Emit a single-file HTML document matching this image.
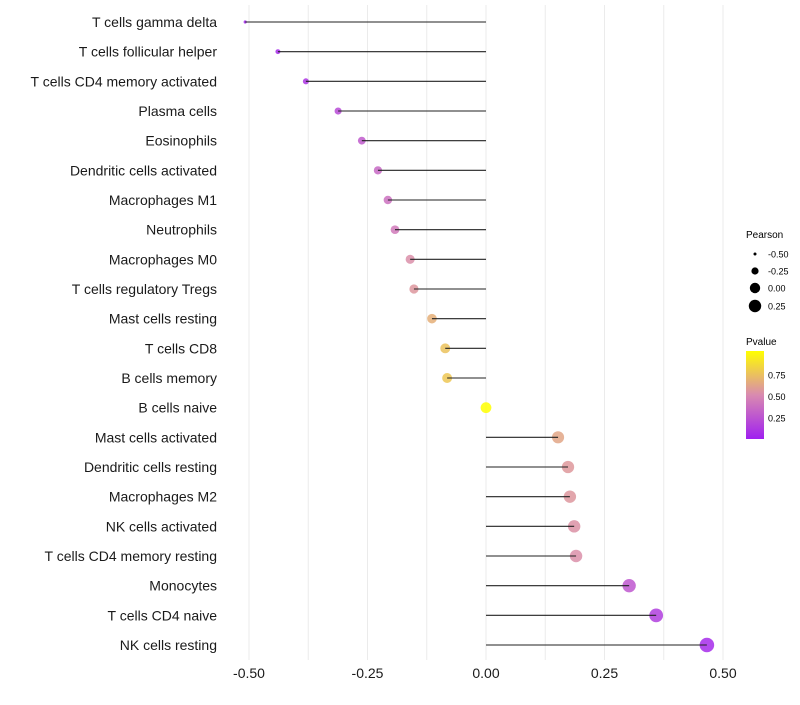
<!DOCTYPE html>
<html><head><meta charset="utf-8"><style>
body{margin:0;background:#fff;font-family:"Liberation Sans",sans-serif}
</style></head><body>
<svg id="chart" width="800" height="700" xmlns="http://www.w3.org/2000/svg" font-family="Liberation Sans, sans-serif">
<defs><linearGradient id="pg" x1="0" y1="1" x2="0" y2="0">
<stop offset="0" stop-color="#a020f0"/><stop offset="0.5" stop-color="#d98ab0"/><stop offset="1" stop-color="#ffff00"/></linearGradient></defs>
<g id="grid"></g>
<g id="points"></g>
<g id="marks"></g>
<g id="ylabels"></g>
<g id="xlabels"></g>
<g font-size="10">
<text x="746" y="238">Pearson</text>
<circle cx="755" cy="254" r="1.5" fill="#000"/><text x="768" y="257.5" font-size="9">-0.50</text>
<circle cx="755" cy="271" r="3.6" fill="#000"/><text x="768" y="274.5" font-size="9">-0.25</text>
<circle cx="755" cy="288" r="5.2" fill="#000"/><text x="768" y="291.5" font-size="9">0.00</text>
<circle cx="755" cy="306" r="6.2" fill="#000"/><text x="768" y="309.5" font-size="9">0.25</text>
</g>
<g font-size="9">
<text x="746" y="345" font-size="10">Pvalue</text>
<rect x="746" y="351" width="18" height="88" fill="url(#pg)"/>
<text x="768" y="378.5">0.75</text>
<text x="768" y="400">0.50</text>
<text x="768" y="421.5">0.25</text>
</g>
</svg>
<script>
const categories=["T cells gamma delta","T cells follicular helper","T cells CD4 memory activated","Plasma cells","Eosinophils","Dendritic cells activated","Macrophages M1","Neutrophils","Macrophages M0","T cells regulatory  Tregs ","Mast cells resting","T cells CD8","B cells memory","B cells naive","Mast cells activated","Dendritic cells resting","Macrophages M2","NK cells activated","T cells CD4 memory resting","Monocytes","T cells CD4 naive","NK cells resting"];
const pearson=[-0.508,-0.439,-0.380,-0.312,-0.262,-0.228,-0.207,-0.192,-0.160,-0.152,-0.114,-0.086,-0.082,0.0,0.152,0.173,0.177,0.186,0.190,0.302,0.359,0.466];
const pvalue=[0.02,0.05,0.1,0.2,0.28,0.34,0.38,0.42,0.52,0.55,0.66,0.74,0.76,1.0,0.62,0.56,0.55,0.53,0.52,0.26,0.14,0.05];
const xTicks=[-0.5,-0.25,0,0.25,0.5];
const xTickLabels=["-0.50","-0.25","0.00","0.25","0.50"];
const NS="http://www.w3.org/2000/svg";
const x=v=>486+v*474;
const y=i=>22+i*29.667;
function mk(t,a,p){const e=document.createElementNS(NS,t);for(const k in a)e.setAttribute(k,a[k]);p.appendChild(e);return e;}
function lerp(a,b,t){return a.map((v,i)=>Math.round(v+(b[i]-v)*t));}
function col(p){const s=[[160,32,240],[217,138,176],[255,255,0]];const c=p<0.5?lerp(s[0],s[1],p/0.5):lerp(s[1],s[2],(p-0.5)/0.5);return `rgb(${c})`;}
const rad=v=>Math.sqrt(2.5+(v+0.508)*52);
const grid=document.getElementById('grid');
for(let k=-0.5;k<=0.5001;k+=0.125){
 const l=mk('line',{x1:x(k),x2:x(k),y1:5,y2:660,stroke:'#ebebeb','stroke-width':1},grid);
 
 
}
const marks=document.getElementById('marks'),pts=document.getElementById('points'),yl=document.getElementById('ylabels'),xl=document.getElementById('xlabels');
categories.forEach((c,i)=>{
 const d=mk('circle',{cx:x(pearson[i]),cy:y(i),r:rad(pearson[i]),fill:col(pvalue[i]),'fill-opacity':0.85},pts);
 
 
 const s=mk('line',{x1:x(0),x2:x(pearson[i]),y1:y(i),y2:y(i),stroke:'#222','stroke-width':1.1},marks);
 
 
 const t=mk('text',{x:217,y:y(i)+5,'text-anchor':'end','font-size':14,fill:'#1a1a1a'},yl);
 t.textContent=c;
 
 
});
xTicks.forEach((v,i)=>{
 const t=mk('text',{x:x(v),y:678,'text-anchor':'middle','font-size':14,fill:'#1a1a1a'},xl);
 t.textContent=xTickLabels[i];
 
 
});
</script>
</body></html>
